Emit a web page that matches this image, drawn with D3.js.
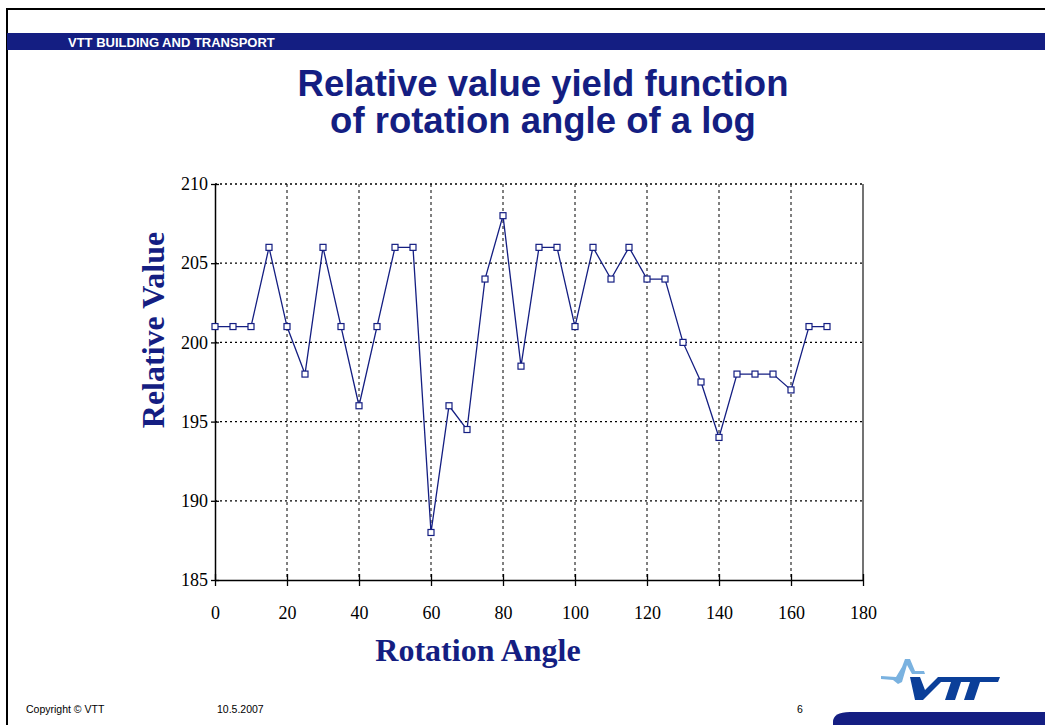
<!DOCTYPE html>
<html><head><meta charset="utf-8">
<script src="https://cdn.jsdelivr.net/npm/d3@7"></script>
<style>body{margin:0;background:#fff}svg{display:block}</style>
</head><body>
<svg id="c" width="1045" height="725"></svg>
<script>
const angles = [0,5,10,15,20,25,30,35,40,45,50,55,60,65,70,75,80,85,90,95,100,105,110,115,120,125,130,135,140,145,150,155,160,165,170];
const values = [201,201,201,206,201,198,206,201,196,201,206,206,188,196,194.5,204,208,198.5,206,206,201,206,204,206,204,204,200,197.5,194,198,198,198,197,201,201];
const xTicks = [0,20,40,60,80,100,120,140,160,180];
const yTicks = [185,190,195,200,205,210];

const svg = d3.select("#c");
const navy = "#141e82";
// frame
svg.append("line").attr("x1",7).attr("x2",1045).attr("y1",9).attr("y2",9).attr("stroke","#000").attr("stroke-width",2);
svg.append("line").attr("x1",7).attr("x2",7).attr("y1",8).attr("y2",725).attr("stroke","#000").attr("stroke-width",2);
svg.append("rect").attr("x",7).attr("y",33).attr("width",1038).attr("height",17).attr("fill",navy);
svg.append("text").attr("x",68).attr("y",46.5).attr("fill","#fff").attr("font-family","Liberation Sans, Arial").attr("font-weight","bold").attr("font-size",13).text("VTT BUILDING AND TRANSPORT");

// title
const title = svg.append("text").attr("text-anchor","middle").attr("fill",navy).attr("font-family","Liberation Sans, Arial").attr("font-weight","bold").attr("font-size",36.5);
title.append("tspan").attr("x",543).attr("y",96).text("Relative value yield function");
title.append("tspan").attr("x",543).attr("y",133).text("of rotation angle of a log");

const x = d3.scaleLinear().domain([0,180]).range([215,863]);
const y = d3.scaleLinear().domain([185,210]).range([580,184]);

// grid
svg.append("g").selectAll("line").data(yTicks.filter(d=>d>185)).join("line")
  .attr("x1",x(0)).attr("x2",x(180)).attr("y1",d=>y(d)).attr("y2",d=>y(d))
  .attr("stroke","#000").attr("stroke-width",1.3).attr("stroke-dasharray","2,3");
svg.append("g").selectAll("line").data(xTicks.filter(d=>d>0&&d<180)).join("line")
  .attr("x1",d=>x(d)).attr("x2",d=>x(d)).attr("y1",y(210)).attr("y2",y(185))
  .attr("stroke","#000").attr("stroke-width",1).attr("stroke-dasharray","3,3");
// right border
svg.append("line").attr("x1",x(180)).attr("x2",x(180)).attr("y1",y(210)).attr("y2",y(185)).attr("stroke","#444").attr("stroke-width",1.5);

// axes
const tf = "Liberation Serif, Times New Roman";
const gx = svg.append("g").attr("transform",`translate(0,${y(185)})`)
  .call(d3.axisBottom(x).tickValues(xTicks).tickSize(6).tickPadding(20).tickSizeOuter(0));
gx.selectAll(".tick line").attr("y1",-6).attr("stroke-width",1.3);
const gy = svg.append("g").attr("transform",`translate(${x(0)},0)`)
  .call(d3.axisLeft(y).tickValues(yTicks).tickSize(4).tickPadding(3).tickSizeOuter(0));
gy.selectAll(".tick line").attr("x1",4).attr("stroke-width",1.3);
[gx,gy].forEach(g=>{
  g.select(".domain").attr("stroke","#000").attr("stroke-width",1.5);
  g.selectAll("text").attr("font-family",tf).attr("font-size",18).attr("fill","#000");
});

// line
svg.append("path").datum(angles.map((a,i)=>[a,values[i]]))
  .attr("fill","none").attr("stroke",navy).attr("stroke-width",1.3)
  .attr("d",d3.line().x(d=>x(d[0])).y(d=>y(d[1])));
svg.append("g").selectAll("rect").data(angles.map((a,i)=>[a,values[i]])).join("rect")
  .attr("x",d=>x(d[0])-3).attr("y",d=>y(d[1])-3).attr("width",6).attr("height",6)
  .attr("fill","#fff").attr("stroke",navy).attr("stroke-width",1.2);

// axis titles
svg.append("text").attr("x",478).attr("y",661).attr("text-anchor","middle").attr("fill",navy)
  .attr("font-family",tf).attr("font-weight","bold").attr("font-size",32).text("Rotation Angle");
svg.append("text").attr("transform","translate(164,330) rotate(-90)").attr("text-anchor","middle").attr("fill",navy)
  .attr("font-family",tf).attr("font-weight","bold").attr("font-size",32).text("Relative Value");

// footer
const ff = "Liberation Sans, Arial";
svg.append("text").attr("x",26).attr("y",713).attr("font-family",ff).attr("font-size",10.5).text("Copyright © VTT");
svg.append("text").attr("x",217).attr("y",713).attr("font-family",ff).attr("font-size",10.5).text("10.5.2007");
svg.append("text").attr("x",797).attr("y",713).attr("font-family",ff).attr("font-size",10.5).text("6");

// logo
svg.append("path").attr("d","M833,725 L833,722 Q833,712 850,712 L1045,712 L1045,725 Z").attr("fill",navy);
svg.append("path").attr("d","M881,676 L896,677 L902,667 L905,659 L910,659 L915,671 L924,671 L925,674 L912,674 L907,665 L902,682 L898,684 L893,680 L881,679 Z").attr("fill","#7ab2e0");
svg.append("path").attr("d","M910,677 L920,677 L925,690 L938,677 L1000,677 L998,682 L980,682 L974,700 L964,700 L970,682 L961,682 L955,700 L945,700 L951,682 L941,682 L923,700 L915,700 Z").attr("fill","#0b3f99");
</script>
</body></html>
